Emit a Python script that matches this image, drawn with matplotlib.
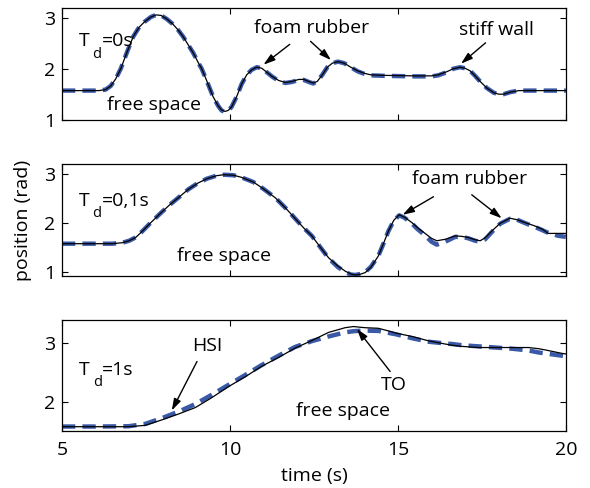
import matplotlib
matplotlib.use("Agg")
import matplotlib.pyplot as plt

plt.rcParams['font.family'] = ['Open Sans', 'DejaVu Sans']

# ---------------- data ----------------
# Panel 1: T_d = 0 s
t_p1 = [5.0, 6.1, 6.3, 6.45, 6.6, 6.75, 6.95, 7.12, 7.3, 7.47, 7.65, 7.8, 7.95, 8.12,
        8.3, 8.45, 8.61, 8.75, 8.91, 9.05, 9.16, 9.3, 9.5, 9.65, 9.75, 9.85, 9.95, 10.05,
        10.2, 10.35, 10.5, 10.65, 10.8, 10.95, 11.1, 11.25, 11.45, 11.65, 11.85, 12.05,
        12.2, 12.35, 12.48, 12.6, 12.75, 12.9, 13.05, 13.22, 13.4, 13.6, 13.8, 14.0, 14.2,
        14.6, 15.5, 16.0, 16.2, 16.45, 16.65, 16.85, 17.0, 17.15, 17.3, 17.45, 17.65,
        17.85, 18.0, 18.15, 18.35, 18.6, 20.0]
to_p1 = [1.57, 1.57, 1.59, 1.66, 1.80, 2.00, 2.35, 2.63, 2.82, 2.93, 3.02, 3.06, 3.05, 2.98,
         2.88, 2.77, 2.63, 2.48, 2.31, 2.13, 2.00, 1.78, 1.45, 1.27, 1.19, 1.16, 1.18, 1.25,
         1.45, 1.70, 1.88, 1.98, 2.03, 2.01, 1.93, 1.85, 1.77, 1.73, 1.75, 1.79,
         1.79, 1.75, 1.72, 1.75, 1.88, 2.03, 2.11, 2.14, 2.11, 2.03, 1.96, 1.91, 1.88,
         1.87, 1.86, 1.86, 1.88, 1.94, 2.00, 2.03, 2.01, 1.96, 1.86, 1.75, 1.62,
         1.53, 1.50, 1.50, 1.54, 1.57, 1.57]
hsi_p1 = [1.57, 1.57, 1.59, 1.66, 1.80, 2.00, 2.35, 2.63, 2.82, 2.93, 3.02, 3.06, 3.05, 2.98,
          2.88, 2.77, 2.63, 2.48, 2.31, 2.13, 2.00, 1.78, 1.45, 1.27, 1.18, 1.15, 1.17, 1.25,
          1.45, 1.70, 1.88, 1.98, 2.03, 2.01, 1.93, 1.85, 1.76, 1.72, 1.74, 1.78,
          1.78, 1.74, 1.71, 1.75, 1.88, 2.03, 2.11, 2.14, 2.11, 2.03, 1.95, 1.90, 1.87,
          1.86, 1.85, 1.85, 1.87, 1.93, 2.00, 2.03, 2.01, 1.96, 1.86, 1.75, 1.62,
          1.53, 1.50, 1.50, 1.54, 1.57, 1.57]

# Panel 2: T_d = 0,1 s
t_p2 = [5.0, 6.5, 6.8, 7.0, 7.2, 7.4, 7.63, 7.9, 8.2, 8.5, 8.76, 9.05, 9.32, 9.6, 9.82,
        10.1, 10.33, 10.7, 11.0, 11.35, 11.67, 12.0, 12.2, 12.44, 12.7, 12.94, 13.2, 13.43,
        13.6, 13.73, 13.88, 14.03, 14.2, 14.42, 14.57, 14.72, 14.88, 15.04, 15.2, 15.42,
        15.6, 15.81, 16.0, 16.16, 16.41, 16.71, 16.9, 17.1, 17.3, 17.45, 17.6, 17.8,
        18.05, 18.34, 18.55, 18.79, 19.05, 19.29, 19.48, 19.78, 20.0]
to_p2 = [1.58, 1.58, 1.60, 1.64, 1.71, 1.84, 2.00, 2.18, 2.37, 2.54, 2.69, 2.82, 2.91, 2.97, 2.99,
         2.98, 2.94, 2.84, 2.70, 2.52, 2.30, 2.05, 1.90, 1.74, 1.50, 1.29, 1.13, 1.02,
         0.96, 0.94, 0.955, 0.99, 1.10, 1.33, 1.58, 1.84, 2.06, 2.17, 2.12, 2.01,
         1.90, 1.79, 1.69, 1.64, 1.67, 1.74, 1.73, 1.705, 1.66, 1.64, 1.70, 1.84,
         2.00, 2.10, 2.07, 2.01, 1.95, 1.88, 1.79, 1.79, 1.79]
hsi_p2 = [1.58, 1.58, 1.60, 1.64, 1.71, 1.84, 2.00, 2.18, 2.37, 2.54, 2.69, 2.82, 2.91, 2.97, 2.99,
          2.98, 2.94, 2.84, 2.70, 2.52, 2.30, 2.05, 1.90, 1.74, 1.50, 1.28, 1.11, 1.00,
          0.95, 0.94, 0.96, 1.00, 1.11, 1.33, 1.58, 1.84, 2.05, 2.16, 2.11, 1.99,
          1.87, 1.75, 1.62, 1.56, 1.62, 1.72, 1.72, 1.69, 1.64, 1.62, 1.67, 1.82,
          1.99, 2.09, 2.07, 2.00, 1.93, 1.86, 1.80, 1.74, 1.72]

# Panel 3: T_d = 1 s
t_p3 = [5.0, 6.0, 6.98, 7.48, 7.98, 8.47, 8.97, 9.46, 9.96, 10.46, 10.95, 11.45, 11.94,
        12.44, 12.94, 13.43, 13.68, 13.93, 14.03, 14.42, 14.82, 14.92, 15.42, 15.91, 16.41,
        16.61, 16.90, 17.40, 17.90, 18.39, 18.89, 19.19, 19.38, 19.88, 20.0]
to_p3 = [1.572, 1.572, 1.572, 1.595, 1.69, 1.79, 1.90, 2.07, 2.26, 2.43, 2.61, 2.76, 2.92,
         3.05, 3.19, 3.27, 3.29, 3.275, 3.27, 3.26, 3.20, 3.18, 3.12, 3.045, 2.99,
         2.97, 2.95, 2.93, 2.93, 2.93, 2.93, 2.91, 2.89, 2.83, 2.82]
hsi_p3 = [1.575, 1.575, 1.58, 1.62, 1.72, 1.83, 1.96, 2.12, 2.29, 2.46, 2.63, 2.79, 2.94,
          3.04, 3.12, 3.19, 3.21, 3.22, 3.22, 3.215, 3.17, 3.16, 3.09, 3.03, 3.00,
          2.99, 2.97, 2.95, 2.93, 2.91, 2.88, 2.845, 2.83, 2.79, 2.78]

x_ticks = [5, 10, 15, 20]
delay_labels = ['=0s', '=0,1s', '=1s']

# ---------------- figure ----------------
FS = 14
fig = plt.figure(figsize=(5.9, 4.88), dpi=100)
left, width = 0.105, 0.854
ax1 = fig.add_axes([left, 0.755, width, 0.228])
ax2 = fig.add_axes([left, 0.435, width, 0.229])
ax3 = fig.add_axes([left, 0.117, width, 0.227])

blue = '#3a59a6'
dash_kw = dict(color=blue, lw=3.2, ls=(0, (3.0, 1.6)), dash_capstyle='butt', zorder=2)
solid_kw = dict(color='black', lw=0.9, zorder=3)

for ax, t, to, hsi in [(ax1, t_p1, to_p1, hsi_p1), (ax2, t_p2, to_p2, hsi_p2), (ax3, t_p3, to_p3, hsi_p3)]:
    ax.plot(t, hsi, **dash_kw)
    ax.plot(t, to, **solid_kw)
    ax.set_xlim(5, 20)
    ax.set_xticks(x_ticks)
    ax.tick_params(direction='in', top=True, right=True, length=4.5, width=0.8,
                   labelsize=FS, pad=5)
    for s in ax.spines.values():
        s.set_linewidth(0.9)

ax1.set_ylim(1, 3.19)
ax1.set_yticks([1, 2, 3])
ax2.set_ylim(0.925, 3.21)
ax2.set_yticks([1, 2, 3])
ax3.set_ylim(1.5, 3.40)
ax3.set_yticks([2, 3])
ax1.set_xticklabels([])
ax2.set_xticklabels([])
ax3.tick_params(axis='x', pad=7)

arrow = dict(arrowstyle='-|>,head_length=0.7,head_width=0.22', color='black', lw=1.0,
             shrinkA=0, shrinkB=0)


def td_label(ax, x, y, suffix):
    ax.text(x, y, 'T', fontsize=FS, ha='left', va='baseline')
    ax.annotate('d', xy=(x, y), xytext=(10.0, -8.0), textcoords='offset points',
                fontsize=10.5, ha='left', va='baseline')
    ax.annotate(suffix, xy=(x, y), xytext=(16.8, 0), textcoords='offset points',
                fontsize=FS, ha='left', va='baseline')


# panel 1 annotations
td_label(ax1, 5.49, 2.44, delay_labels[0])
ax1.text(7.74, 1.29, 'free space', fontsize=FS, ha='center', va='center')
ax1.text(12.43, 2.80, 'foam rubber', fontsize=FS, ha='center', va='center')
ax1.annotate('', xy=(11.0, 2.08), xytext=(11.78, 2.48), arrowprops=arrow)
ax1.annotate('', xy=(13.01, 2.17), xytext=(12.40, 2.54), arrowprops=arrow)
ax1.text(17.93, 2.76, 'stiff wall', fontsize=FS, ha='center', va='center')
ax1.annotate('', xy=(16.88, 2.10), xytext=(17.61, 2.51), arrowprops=arrow)

# panel 2 annotations
td_label(ax2, 5.49, 2.36, delay_labels[1])
ax2.text(9.82, 1.32, 'free space', fontsize=FS, ha='center', va='center')
ax2.text(17.12, 2.90, 'foam rubber', fontsize=FS, ha='center', va='center')
ax2.annotate('', xy=(15.14, 2.17), xytext=(16.06, 2.54), arrowprops=arrow)
ax2.annotate('', xy=(18.09, 2.10), xytext=(17.20, 2.58), arrowprops=arrow)

# panel 3 annotations
td_label(ax3, 5.50, 2.46, delay_labels[2])
ax3.text(9.34, 2.95, 'HSI', fontsize=FS, ha='center', va='center')
ax3.annotate('', xy=(8.27, 1.85), xytext=(9.02, 2.69), arrowprops=arrow)
ax3.text(14.87, 2.29, 'TO', fontsize=FS, ha='center', va='center')
ax3.annotate('', xy=(13.78, 3.25), xytext=(14.77, 2.52), arrowprops=arrow)
ax3.text(13.37, 1.84, 'free space', fontsize=FS, ha='center', va='center')

fig.text(0.039, 0.549, 'position (rad)', fontsize=FS, rotation=90, ha='center', va='center')
fig.text(left + width / 2, 0.024, 'time (s)', fontsize=FS, ha='center', va='center')

fig.savefig('out.png', dpi=100)
